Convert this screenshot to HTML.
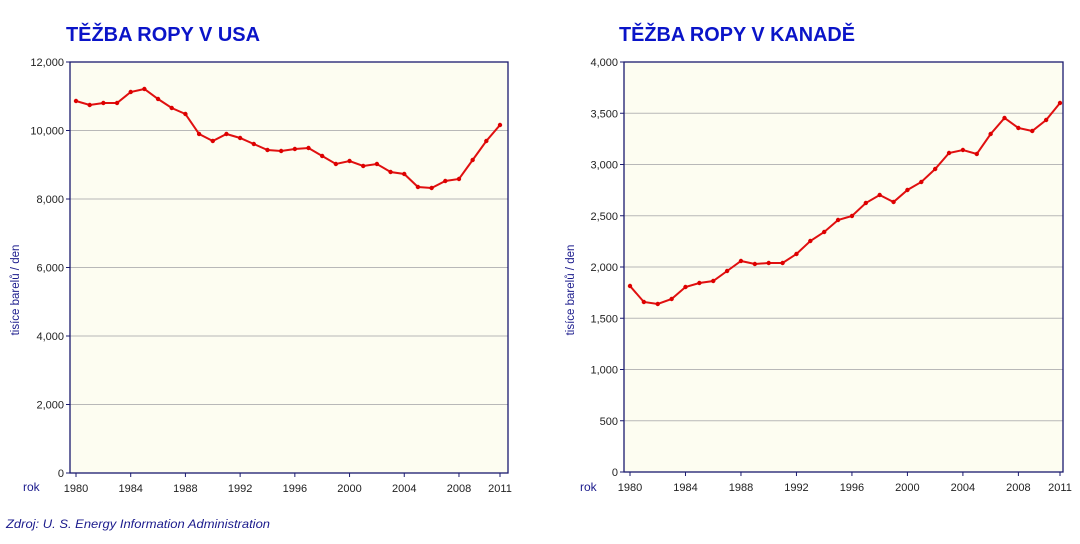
<!DOCTYPE html>
<html><head><meta charset="utf-8"><style>
body{margin:0;background:#fff;width:1080px;height:539px;overflow:hidden}
text{font-family:"Liberation Sans",sans-serif}
</style></head><body>
<svg id="s" width="1080" height="539" xmlns="http://www.w3.org/2000/svg">
<text x="66" y="41" font-size="20" font-weight="bold" fill="#0a14c8" textLength="194" lengthAdjust="spacingAndGlyphs">TĚŽBA ROPY V USA</text>
<text x="619" y="41" font-size="20" font-weight="bold" fill="#0a14c8" textLength="236" lengthAdjust="spacingAndGlyphs">TĚŽBA ROPY V KANADĚ</text>
<text x="6" y="528" font-size="12" font-style="italic" fill="#1a1a8c" textLength="264" lengthAdjust="spacingAndGlyphs">Zdroj: U. S. Energy Information Administration</text>
<text x="23" y="491" font-size="12" fill="#1a1a8c">rok</text>
<text x="580" y="491" font-size="12" fill="#1a1a8c">rok</text>
<text transform="translate(19,290) rotate(-90)" font-size="11.5" fill="#1a1a8c" text-anchor="middle">tisíce barelů / den</text>
<text transform="translate(574,290) rotate(-90)" font-size="11.5" fill="#1a1a8c" text-anchor="middle">tisíce barelů / den</text>
</svg>
<script>
const s=document.getElementById('s');const NS='http://www.w3.org/2000/svg';
function el(t,a,txt){const e=document.createElementNS(NS,t);for(const k in a)e.setAttribute(k,a[k]);if(txt!==undefined)e.textContent=txt;s.appendChild(e);return e;}
function chart(L,R,T,B,x0,x1,ticks,fmt,ys){
 el('rect',{x:L,y:T,width:R-L,height:B-T,fill:'#fdfdf1'});
 for(let i=1;i<ticks.length;i++){const y=B-(B-T)*i/(ticks.length-1);el('line',{x1:L,x2:R,y1:y,y2:y,stroke:'#b8b8b8','stroke-width':1});}
 for(let i=0;i<ticks.length;i++){const y=B-(B-T)*i/(ticks.length-1);el('line',{x1:L-4,x2:L,y1:y,y2:y,stroke:'#1a1a6e'});el('text',{x:L-6,y:y+4,'font-size':11,fill:'#222','text-anchor':'end'},ticks[i]);}
 el('rect',{x:L,y:T,width:R-L,height:B-T,fill:'none',stroke:'#1a1a6e','stroke-width':1.3});
 const dx=(x1-x0)/31;
 [1980,1984,1988,1992,1996,2000,2004,2008,2011].forEach(yr=>{const x=x0+(yr-1980)*dx;el('line',{x1:x,x2:x,y1:B,y2:B+4,stroke:'#1a1a6e'});el('text',{x:x,y:B+19,'font-size':11,fill:'#222','text-anchor':'middle'},yr);});
 const pts=ys.map((y,i)=>[x0+i*dx,y]);
 el('polyline',{points:pts.map(p=>p.join(',')).join(' '),fill:'none',stroke:'#e01010','stroke-width':2});
 pts.forEach(p=>el('circle',{cx:p[0],cy:p[1],r:2.2,fill:'#d00'}));
}
chart(70,508,62,473,76,500,['0','2,000','4,000','6,000','8,000','10,000','12,000'],0,
[101,105,103,103,92,89,99,108,114,134,141,134,138,144,150,151,149,148,156,164,161,166,164,172,174,187,188,181,179,160,141,125]);
chart(624,1063,62,472,630,1060,['0','500','1,000','1,500','2,000','2,500','3,000','3,500','4,000'],0,
[286,302,304,299,287,283,281,271,261,264,263,263,254,241,232,220,216,203,195,202,190,182,169,153,150,154,134,118,128,131,120,103]);
</script>
</body></html>
